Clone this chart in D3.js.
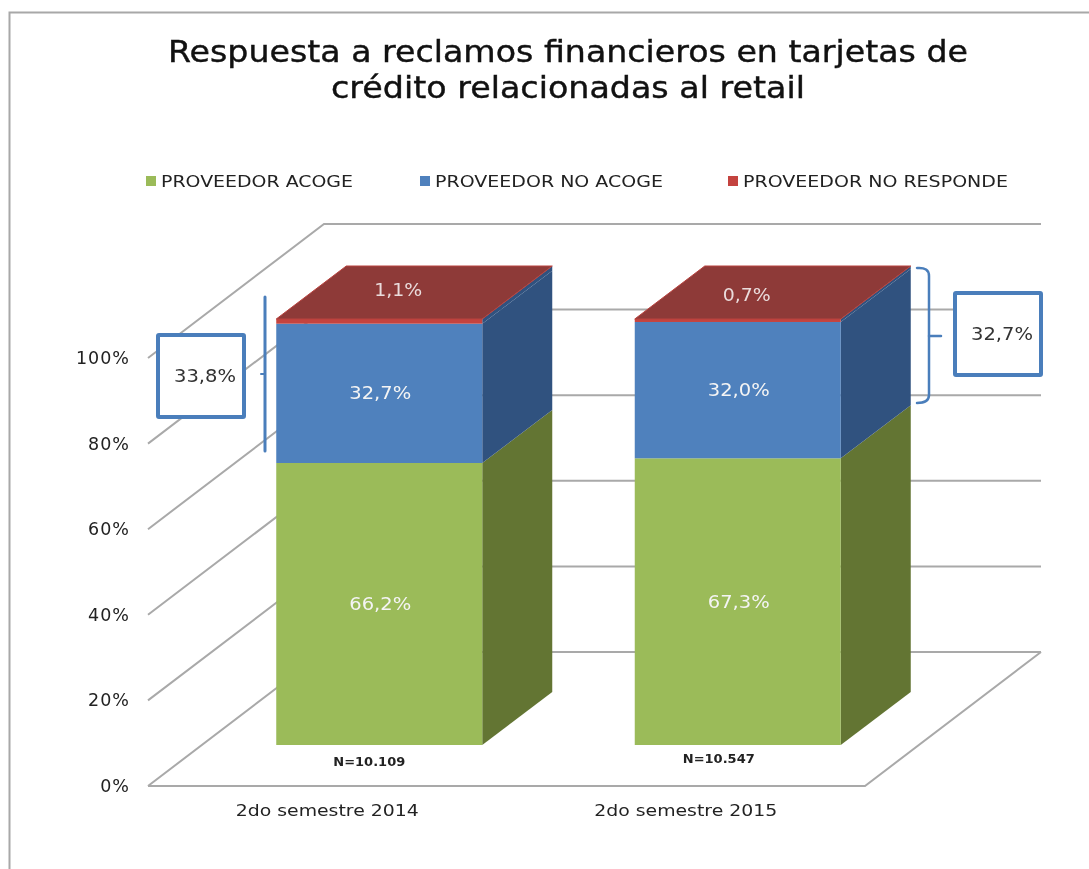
<!DOCTYPE html>
<html>
<head>
<meta charset="utf-8">
<script src="https://cdn.jsdelivr.net/npm/d3@7"></script>
<style>
  html, body { margin: 0; padding: 0; background: #fff; }
  svg { display: block; filter: blur(0.45px); }
  text { font-family: "DejaVu Sans", sans-serif; }
</style>
</head>
<body>
<svg id="chart" width="1089" height="869"></svg>
<script>
const titleLines = ["Respuesta a reclamos financieros en tarjetas de", "crédito relacionadas al retail"];
const categories = ["2do semestre 2014", "2do semestre 2015"];
const seriesNames = ["PROVEEDOR ACOGE", "PROVEEDOR NO ACOGE", "PROVEEDOR NO RESPONDE"];
const acoge = [66.2, 67.3];
const noAcoge = [32.7, 32.0];
const noResponde = [1.1, 0.7];
const sampleLabels = ["N=10.109", "N=10.547"];
const calloutLabels = ["33,8%", "32,7%"];
const yTicks = [0, 20, 40, 60, 80, 100];

const frontColors = ["#9bbb59", "#4f81bd", "#c4433f"];
const sideColors = ["#637533", "#30527f", "#30527f"];
const topColor = "#8e3a38";

const svg = d3.select("#chart");

// wall depth of the fake 3d box, bars sit inside it
const wallDx = 176, wallDy = -134;
const barDx = 70, barDy = -53;

const x = d3.scaleBand().domain(categories).range([148, 865]);
const y = d3.scaleLinear().domain([0, 100]).range([786, 358]);
const barY = d3.scaleLinear().domain([0, 100]).range([745, 319]);
const barShift = 52, barWidth = 206;

const fmt = v => d3.format(".1f")(v).replace(".", ",") + "%";

// outer frame
svg.append("path")
  .attr("d", "M9.5,869V12.5H1089")
  .attr("fill", "none")
  .attr("stroke", "#a8a8a8")
  .attr("stroke-width", 2);

// title
const titleW = [800, 474];
svg.selectAll(".title").data(titleLines).join("text")
  .attr("class", "title")
  .attr("x", 568)
  .attr("y", (d, i) => 62 + i * 36)
  .attr("text-anchor", "middle")
  .attr("font-size", 30)
  .attr("fill", "#111")
  .attr("stroke", "#111")
  .attr("stroke-width", 0.4)
  .attr("textLength", (d, i) => titleW[i])
  .attr("lengthAdjust", "spacingAndGlyphs")
  .text(d => d);

// legend
const legendX = [146, 420, 728];
const legendW = [192, 228, 265];
seriesNames.forEach((name, i) => {
  svg.append("rect")
    .attr("x", legendX[i]).attr("y", 176)
    .attr("width", 10).attr("height", 10)
    .attr("fill", frontColors[i]);
  svg.append("text")
    .attr("x", legendX[i] + 15).attr("y", 187)
    .attr("font-size", 16.5)
    .attr("fill", "#222")
    .attr("textLength", legendW[i])
    .attr("lengthAdjust", "spacingAndGlyphs")
    .text(name);
});

// grid: side wall + back wall
const x0 = x.range()[0], x1 = x.range()[1];
const grid = svg.append("g").attr("fill", "none").attr("stroke", "#a9a9a9").attr("stroke-width", 2);
yTicks.forEach(t => {
  if (t == 0) {
    grid.append("path").attr("d", d3.line()([
      [x0, y(0)], [x1, y(0)], [x1 + wallDx, y(0) + wallDy]
    ]));
  }
  grid.append("path").attr("d", d3.line()([
    [x0, y(t)], [x0 + wallDx, y(t) + wallDy], [x1 + wallDx, y(t) + wallDy]
  ]));
});

// y tick labels
svg.selectAll(".ytick").data(yTicks).join("text")
  .attr("class", "ytick")
  .attr("x", 130)
  .attr("y", d => y(d) + 6)
  .attr("text-anchor", "end")
  .attr("font-size", 17.5)
  .attr("letter-spacing", 1)
  .attr("fill", "#222")
  .text(d => d + "%");

// category labels
svg.selectAll(".cat").data(categories).join("text")
  .attr("class", "cat")
  .attr("x", d => x(d) + x.bandwidth() / 2)
  .attr("y", 816)
  .attr("text-anchor", "middle")
  .attr("font-size", 16.5)
  .attr("fill", "#222")
  .attr("textLength", 183)
  .attr("lengthAdjust", "spacingAndGlyphs")
  .text(d => d);

// stacked boxes
const face = pts => d3.line()(pts) + "Z";
const pctLabel = (px, py, txt, color) => svg.append("text")
  .attr("x", px).attr("y", py)
  .attr("text-anchor", "middle")
  .attr("font-size", 17)
  .attr("fill", color)
  .attr("textLength", txt.length > 4 ? 62 : 48)
  .attr("lengthAdjust", "spacingAndGlyphs")
  .text(txt);

categories.forEach((cat, c) => {
  const left = x(cat) + x.bandwidth() / 2 + barShift - barWidth / 2;
  const right = left + barWidth;
  const values = [acoge[c], noAcoge[c], noResponde[c]];
  let sum = 0;
  values.forEach((v, s) => {
    const yb = barY(sum), yt = barY(sum + v);
    sum += v;
    svg.append("path")
      .attr("d", face([[right, yb], [right + barDx, yb + barDy], [right + barDx, yt + barDy], [right, yt]]))
      .attr("fill", sideColors[s]);
    svg.append("rect")
      .attr("x", left).attr("y", yt)
      .attr("width", barWidth).attr("height", yb - yt)
      .attr("fill", frontColors[s]);
    if (s < 2) pctLabel(left + barWidth / 2 + 1, (yb + yt) / 2 + 6, fmt(v), "#f4f4f4");
  });
  // top face, the label of the red share goes on it
  const yTop = barY(sum);
  svg.append("path")
    .attr("d", face([[left, yTop], [right, yTop], [right + barDx, yTop + barDy], [left + barDx, yTop + barDy]]))
    .attr("fill", topColor)
    .attr("stroke", "#b8423e")
    .attr("stroke-width", 1);
  pctLabel(left + barWidth / 2 + 19 - c * 10, yTop - 23 + c * 5, fmt(noResponde[c]), "#eadcdc");
  svg.append("text")
    .attr("x", left + barWidth / 2 - 10 - c * 9)
    .attr("y", 766 - c * 3)
    .attr("text-anchor", "middle")
    .attr("font-size", 12)
    .attr("font-weight", "bold")
    .attr("fill", "#222")
    .attr("textLength", 72)
    .attr("lengthAdjust", "spacingAndGlyphs")
    .text(sampleLabels[c]);
});

// callouts
const calloutColor = "#4a7ebb";
const boxes = [[158, 335], [955, 293]];
boxes.forEach((b, i) => {
  svg.append("rect")
    .attr("x", b[0]).attr("y", b[1])
    .attr("width", 86).attr("height", 82)
    .attr("rx", 1)
    .attr("fill", "#fff")
    .attr("stroke", calloutColor)
    .attr("stroke-width", 4);
  pctLabel(b[0] + 47, b[1] + 47, calloutLabels[i], "#333");
});

const brace = svg.append("g").attr("fill", "none").attr("stroke", calloutColor).attr("stroke-linecap", "round");
brace.append("path").attr("stroke-width", 3).attr("d", "M265,297V451");
brace.append("path").attr("stroke-width", 2).attr("d", "M261,374H265");
brace.append("path").attr("stroke-width", 2.5)
  .attr("d", "M917,268Q929,267 929,276V395Q929,403 917,403");
brace.append("path").attr("stroke-width", 2.5).attr("d", "M929,336H941");
</script>
</body>
</html>
